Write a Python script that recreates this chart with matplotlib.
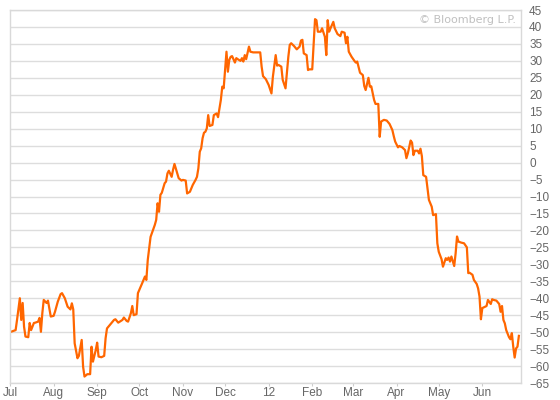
import matplotlib
matplotlib.use("Agg")
import matplotlib.pyplot as plt
import pandas as pd

# days since 2011-07-01 and the plotted value
days = [0, 4, 5, 7, 8, 9, 10, 11, 13, 14, 15, 17, 18, 20, 21, 22, 23, 24, 26, 27,
        29, 31, 32, 34, 36, 37, 39, 41, 43, 44, 45, 46, 48, 49, 51, 52, 53, 55, 57, 58,
        59, 61, 62, 63, 65, 67, 68, 69, 71, 74, 75, 77, 80, 81, 83, 84, 86, 87, 88, 90,
        91, 93, 94, 96, 97, 98, 100, 101, 103, 104, 105, 106, 107, 108, 110, 111, 112, 113, 115, 116,
        117, 119, 120, 122, 123, 125, 126, 128, 130, 132, 133, 134, 135, 136, 137, 138, 139, 140, 141, 142,
        144, 145, 147, 148, 150, 151, 152, 154, 155, 156, 157, 158, 160, 161, 162, 164, 165, 166, 167, 168,
        170, 171, 173, 176, 178, 179, 180, 182, 184, 186, 187, 189, 190, 191, 193, 194, 196, 198, 199, 200,
        202, 204, 206, 207, 208, 209, 211, 212, 213, 215, 217, 218, 219, 221, 222, 224, 225, 226, 227, 228,
        230, 231, 233, 235, 236, 238, 239, 240, 241, 243, 245, 246, 247, 249, 251, 252, 253, 255, 256, 257,
        259, 260, 262, 263, 264, 266, 268, 270, 272, 273, 274, 276, 277, 279, 281, 282, 283, 285, 286, 287,
        288, 290, 291, 292, 293, 294, 296, 297, 298, 300, 301, 303, 304, 305, 307, 308, 310, 311, 312, 313,
        314, 316, 317, 318, 319, 321, 323, 325, 326, 327, 329, 330, 332, 333, 334, 335, 336, 337, 339, 340,
        342, 343, 344, 346, 348, 349, 350, 351, 352, 353, 355, 356, 357, 358, 359, 360, 361, 362]
values = [-50, -49.4, -46.4, -40, -46.4, -41.4, -48.4, -51.3, -51.5, -47.3, -49.4, -47.3, -47.2, -46.9, -45.8, -49.9, -44.4, -40.5, -41.4, -40.7,
          -45.4, -45.2, -44, -41, -38.8, -38.5, -40, -42.5, -43.3, -41.5, -43.3, -53.3, -57.7, -57, -52.3, -60.2, -63.1, -62.4, -62.4, -54.3,
          -58.7, -55.3, -53.1, -57.2, -57.4, -57, -51.8, -48.9, -47.9, -46.4, -46.2, -47.2, -46.4, -45.7, -46.7, -46.9, -44.4, -42.3, -45, -44.7,
          -38.5, -36.6, -35.6, -33.6, -34.6, -28.7, -21.9, -20.7, -18.4, -16.9, -12, -14.5, -9.5, -8.9, -6.1, -5.6, -3.2, -2.4, -4.2, -2.1,
          -0.4, -3.2, -4.6, -5.3, -5.1, -5.3, -9.1, -8.6, -6.6, -5.1, -4.2, -1.7, 3.2, 4.2, 7.2, 8.8, 9.1, 10.1, 14, 10.8,
          11.1, 14, 14.5, 13.4, 18.5, 22.4, 21.9, 32.7, 26.8, 30.3, 31.2, 31.4, 29.5, 30.8, 30.5, 30, 30.8, 29.8, 31.7, 30.5,
          34.2, 32.7, 32.5, 32.5, 32.5, 28.3, 25.5, 24.6, 22.9, 20.4, 25.3, 31.7, 28.6, 28.8, 28.3, 24.4, 21.9, 31.2, 34.7, 35.2,
          34.4, 33.4, 34.2, 36, 36.2, 32.2, 31.7, 27.3, 27.5, 27.5, 42.3, 42, 38.6, 38.6, 39.6, 37.1, 31.7, 42, 38.6, 39.6,
          41.5, 39.6, 37.9, 37.3, 38.6, 38.3, 35.2, 37.1, 32.7, 31.2, 30, 29.5, 29.8, 26.5, 25.8, 22.6, 21.4, 25, 22.4, 22.5,
          18.5, 17.3, 17.3, 7.6, 12.1, 12.6, 12.4, 11.4, 9.6, 7.8, 6.2, 4.5, 4.9, 4.5, 3.7, 1.3, 2.7, 6.5, 5.9, 2.2,
          3.5, 3.5, 2.7, 4.1, 1.9, -3.7, -4.2, -7.6, -11, -13, -15.5, -15.2, -23.8, -26.3, -28.5, -30.7, -28.2, -28.7, -28, -29.2,
          -27.7, -30.5, -26.8, -21.8, -23.3, -23.6, -23.8, -25, -32.6, -32.5, -33.1, -34.6, -35.8, -37.1, -39.5, -46.2, -42.9, -42.7, -42.3, -40.5,
          -41.7, -40.3, -40.5, -40.7, -41.7, -44, -42.3, -46.4, -47.4, -49.4, -51.5, -52.1, -50.3, -54.3, -57.5, -54.8, -54.3, -51.1]

month_labels = ["Jul", "Aug", "Sep", "Oct", "Nov", "Dec", "12",
                "Feb", "Mar", "Apr", "May", "Jun"]
y_ticks = list(range(-65, 50, 5))

start = pd.Timestamp("2011-07-01")
dates = start + pd.to_timedelta(days, unit="D")
month_starts = pd.date_range("2011-07-01", periods=12, freq="MS")

plt.rcParams["font.family"] = ["Liberation Sans", "DejaVu Sans"]

fig = plt.figure(figsize=(5.6, 4.0), dpi=100)
ax = fig.add_axes([10 / 560, 1 - 383 / 400, 510.7 / 560, 373 / 400])

ax.plot(dates, values, color="#ff6600", linewidth=1.6, solid_joinstyle="round")

ax.set_xlim(start, start + pd.Timedelta(days=363.3))
ax.set_ylim(-65, 45)

ax.set_yticks(y_ticks)
ax.yaxis.tick_right()
ax.tick_params(axis="y", length=0, pad=6, labelsize=8.5, labelcolor="#666666")
ax.grid(axis="y", color="#dddddd", linewidth=1)

ax.set_xticks(month_starts)
ax.set_xticklabels(month_labels)
ax.tick_params(axis="x", length=2.5, width=0.8, color="#cccccc", pad=0.5,
               labelsize=8.5, labelcolor="#666666")
ax.get_xticklines()[12].set_color("#e8b000")

for s in ax.spines.values():
    s.set_color("#d9d9d9")
    s.set_linewidth(1)

ax.text(0.99, 0.972, "© Bloomberg L.P.", transform=ax.transAxes,
        ha="right", va="center", fontsize=8, color="#c0c0c0",
        family=["DejaVu Sans"])

fig.savefig("out.png", dpi=100)
